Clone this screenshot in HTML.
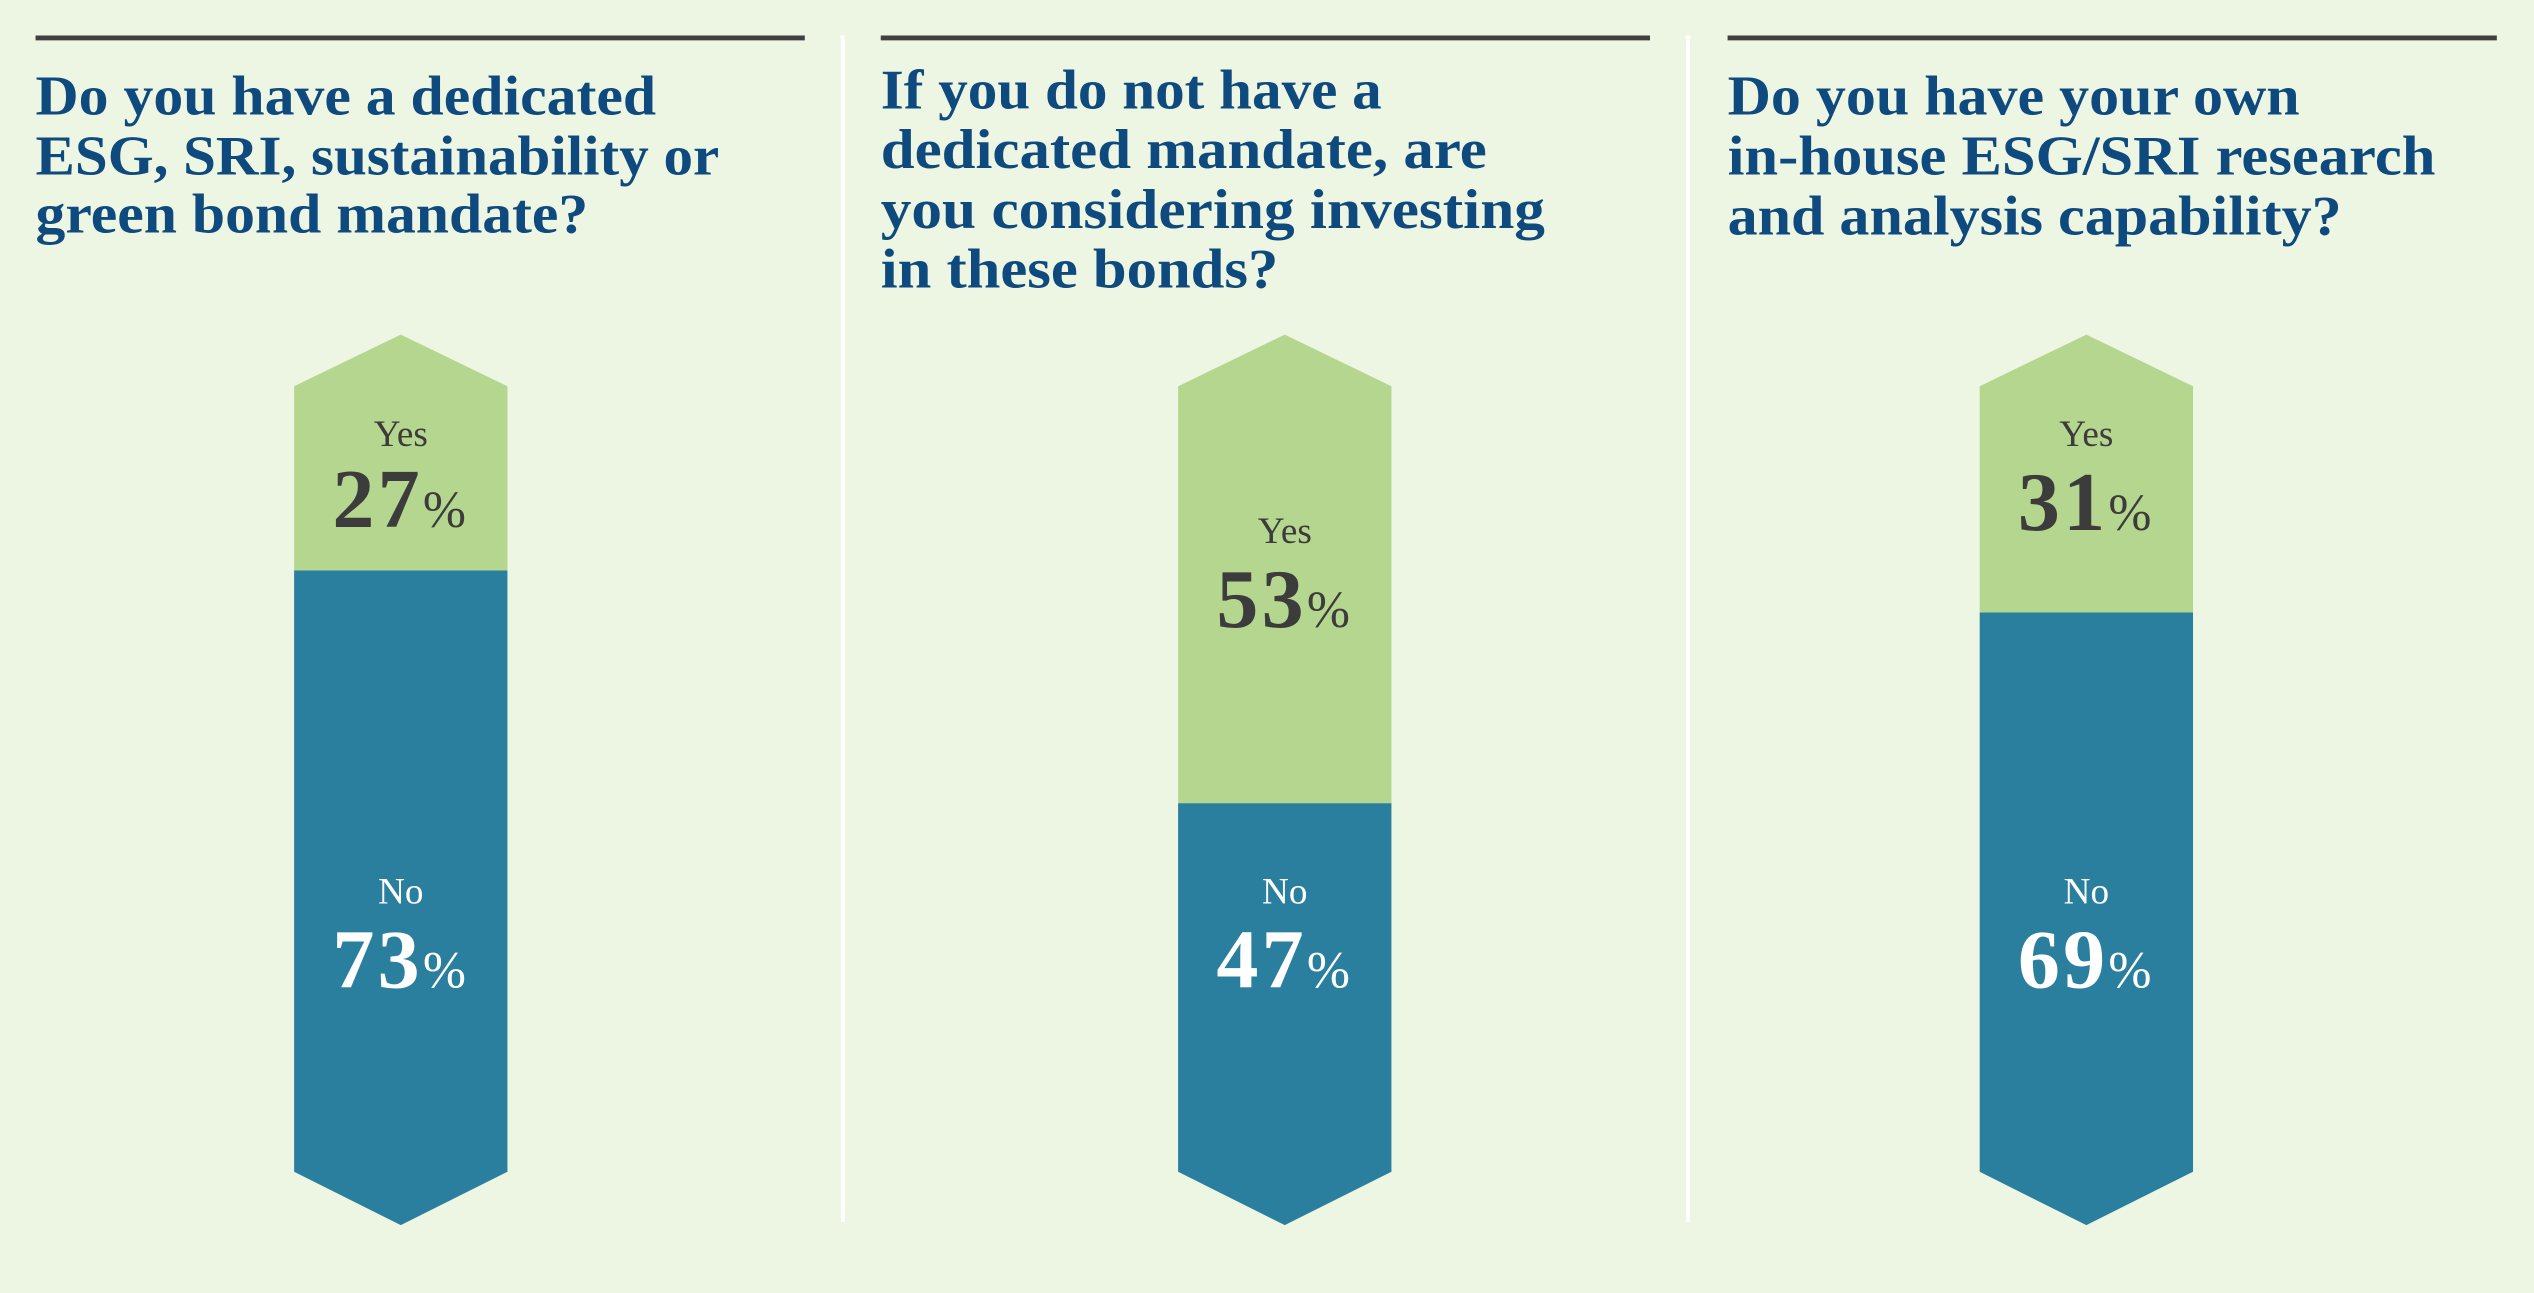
<!DOCTYPE html>
<html><head><meta charset="utf-8"><style>
html,body{margin:0;padding:0;background:#edf5e3;}
svg{display:block;}
.t{font-family:"Liberation Serif",serif;font-weight:bold;fill:#0f4a7e;font-size:35px;}
.l{font-family:"Liberation Serif",serif;font-size:23px;}
.n{font-family:"Liberation Serif",serif;font-weight:bold;font-size:52px;}
.p{font-family:"Liberation Serif",serif;font-size:32px;font-weight:normal;}
</style></head><body>
<svg width="2534" height="1293" viewBox="0 0 1568 800" preserveAspectRatio="none">
<rect width="1568" height="800" fill="#edf5e3"/>
<g stroke="#404040" stroke-width="3">
<line x1="22" y1="23.5" x2="498" y2="23.5"/>
<line x1="545" y1="23.5" x2="1021" y2="23.5"/>
<line x1="1069" y1="23.5" x2="1545" y2="23.5"/>
</g>
<g stroke="#ffffff" stroke-width="2.5">
<line x1="521.5" y1="22" x2="521.5" y2="756"/>
<line x1="1044.5" y1="22" x2="1044.5" y2="756"/>
</g>
<g class="t">
<text x="22" y="71" textLength="384" lengthAdjust="spacingAndGlyphs">Do you have a dedicated</text>
<text x="22" y="108" textLength="423" lengthAdjust="spacingAndGlyphs">ESG, SRI, sustainability or</text>
<text x="22" y="144" textLength="342" lengthAdjust="spacingAndGlyphs">green bond mandate?</text>
<text x="545" y="67" textLength="310" lengthAdjust="spacingAndGlyphs">If you do not have a</text>
<text x="545" y="104" textLength="375" lengthAdjust="spacingAndGlyphs">dedicated mandate, are</text>
<text x="545" y="141" textLength="411" lengthAdjust="spacingAndGlyphs">you considering investing</text>
<text x="545" y="178" textLength="246" lengthAdjust="spacingAndGlyphs">in these bonds?</text>
<text x="1069" y="71" textLength="354" lengthAdjust="spacingAndGlyphs">Do you have your own</text>
<text x="1069" y="108" textLength="438" lengthAdjust="spacingAndGlyphs">in-house ESG/SRI research</text>
<text x="1069" y="145" textLength="380" lengthAdjust="spacingAndGlyphs">and analysis capability?</text>
</g>
<polygon points="182,239 248,207 314,239 314,353 182,353" fill="#b5d68e"/>
<polygon points="182,353 314,353 314,725 248,758 182,725" fill="#2a7f9e"/>
<polygon points="729,239 795,207 861,239 861,497 729,497" fill="#b5d68e"/>
<polygon points="729,497 861,497 861,725 795,758 729,725" fill="#2a7f9e"/>
<polygon points="1225,239 1291,207 1357,239 1357,379 1225,379" fill="#b5d68e"/>
<polygon points="1225,379 1357,379 1357,725 1291,758 1225,725" fill="#2a7f9e"/>
<g text-anchor="middle">
<text class="l" x="248" y="276" fill="#3c3c3c">Yes</text>
<text class="n" x="248" y="326" fill="#3c3c3c" letter-spacing="2">27<tspan class="p">%</tspan></text>
<text class="l" x="248" y="559" fill="#ffffff">No</text>
<text class="n" x="248" y="611" fill="#ffffff" letter-spacing="2">73<tspan class="p">%</tspan></text>
<text class="l" x="795" y="336" fill="#3c3c3c">Yes</text>
<text class="n" x="795" y="388" fill="#3c3c3c" letter-spacing="2">53<tspan class="p">%</tspan></text>
<text class="l" x="795" y="559" fill="#ffffff">No</text>
<text class="n" x="795" y="611" fill="#ffffff" letter-spacing="2">47<tspan class="p">%</tspan></text>
<text class="l" x="1291" y="276" fill="#3c3c3c">Yes</text>
<text class="n" x="1291" y="328" fill="#3c3c3c" letter-spacing="2">31<tspan class="p">%</tspan></text>
<text class="l" x="1291" y="559" fill="#ffffff">No</text>
<text class="n" x="1291" y="611" fill="#ffffff" letter-spacing="2">69<tspan class="p">%</tspan></text>
</g>
</svg>
</body></html>
